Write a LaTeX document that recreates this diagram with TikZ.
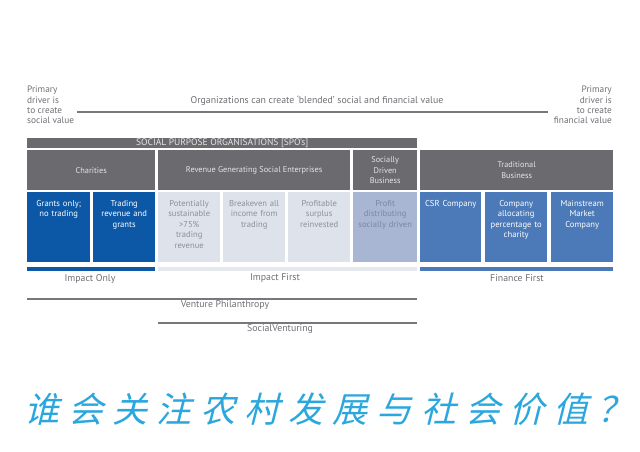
\documentclass[tikz,border=0pt]{standalone}
\usepackage{fontspec}
\setmainfont{PT Sans}
\newfontfamily\cjk[FakeSlant=0.25,LetterSpace=26]{Noto Sans CJK SC}
\definecolor{hdrgrey}{HTML}{6B6B6F}
\definecolor{deepblue}{HTML}{0C58A6}
\definecolor{midblue}{HTML}{4C79B7}
\definecolor{paleblue}{HTML}{DEE2EA}
\definecolor{barpale}{HTML}{E5E8ED}
\definecolor{softblue}{HTML}{A9B6D3}
\definecolor{txtgrey}{HTML}{6F7075}
\definecolor{celltxt}{HTML}{8C9099}
\definecolor{softtxt}{HTML}{7A86A1}
\definecolor{linegrey}{HTML}{77787C}
\definecolor{skyblue}{HTML}{2BA7DE}

\begin{document}
\begin{tikzpicture}[x=1pt,y=-1pt,
  hdr/.style={fill=hdrgrey,text=white!90!black,anchor=north west,inner sep=0pt,
    minimum height=40pt,align=center,font=\fontsize{8.3}{10.3}\selectfont},
  cell/.style={anchor=north west,inner xsep=1pt,inner ysep=3pt,text height=11pt,
    text depth=53pt,align=center,font=\fontsize{8.6}{10.5}\selectfont},
  bar/.style={anchor=north west,inner sep=0pt,minimum height=3.5pt},
  lbl/.style={text=txtgrey,font=\fontsize{9.8}{11}\selectfont},
  rule/.style={linegrey,line width=1.4pt}]

\useasboundingbox[fill=white] (0,0) rectangle (640,452);

% drivers at both ends
\node[lbl,anchor=north west,align=left,inner sep=0pt,font=\fontsize{9.3}{10.3}\selectfont]
  (socialdrv) at (27,86) {Primary\\driver is\\to create\\social value};
\node[lbl,anchor=north east,align=right,inner sep=0pt,font=\fontsize{9.3}{10.3}\selectfont]
  (financedrv) at (612,86) {Primary\\driver is\\to create\\financial value};
\draw[rule] (77,112) -- (548,112);
\node[lbl,font=\fontsize{9.8}{10}\selectfont] (blended) at (317,101)
  {Organizations can create `blended' social and financial value};

% header rows
\node[hdr,minimum width=390pt,minimum height=10pt,font=\fontsize{9.5}{9.5}\selectfont]
  (spo) at (27,138) {SOCIAL PURPOSE ORGANISATIONS [SPO's]};
\node[hdr,minimum width=128pt] (charities) at (27,150) {Charities};
\node[hdr,minimum width=192pt] (revenue) at (158,150) {Revenue Generating Social Enterprises};
\node[hdr,minimum width=64pt] (socially) at (353,150) {Socially\\Driven\\Business};
\node[hdr,minimum width=193pt] (traditional) at (420,150) {Traditional\\Business};

% cells
\node[cell,fill=deepblue,text=white,text width=61pt] (grants) at (27,192) {Grants only;\\no trading};
\node[cell,fill=deepblue,text=white,text width=60pt] (trading) at (93,192) {Trading\\revenue and\\grants};
\node[cell,fill=paleblue,text=celltxt,text width=60pt] (sustain) at (158,192)
  {Potentially\\sustainable\\>75\%\\trading\\revenue};
\node[cell,fill=paleblue,text=celltxt,text width=60pt] (breakeven) at (223,192)
  {Breakeven all\\income from\\trading};
\node[cell,fill=paleblue,text=celltxt,text width=60pt] (surplus) at (288,192)
  {Profitable\\surplus\\reinvested};
\node[cell,fill=softblue,text=softtxt,text width=62pt] (distrib) at (353,192)
  {Profit\\distributing\\socially driven};
\node[cell,fill=midblue,text=white,text width=59pt] (csr) at (420,192) {CSR Company};
\node[cell,fill=midblue,text=white,text width=60pt] (allocate) at (485,192)
  {Company\\allocating\\percentage to\\charity};
\node[cell,fill=midblue,text=white,text width=60pt] (mainstream) at (551,192)
  {Mainstream\\Market\\Company};

% impact bars
\node[bar,fill=deepblue,minimum width=128pt] (onlybar) at (27,267) {};
\node[bar,fill=barpale,minimum width=259pt] (firstbar) at (158,267) {};
\node[bar,fill=midblue,minimum width=193pt] (financebar) at (420,267) {};
\node[lbl] (onlylbl) at (90,279) {Impact Only};
\node[lbl] (firstlbl) at (275,278) {Impact First};
\node[lbl] (financelbl) at (517,278) {Finance First};

% investment spans
\draw[rule] (27,299) -- (417,299);
\node[lbl] (venture) at (225,305) {Venture Philanthropy};
\draw[rule] (158,323) -- (417,323);
\node[lbl] (venturing) at (280,329) {SocialVenturing};

\node[text=skyblue,anchor=west,inner sep=0pt,font=\cjk\fontsize{35}{40}\selectfont]
  (question) at (24,409) {谁会关注农村发展与社会价值？};
\end{tikzpicture}
\end{document}
